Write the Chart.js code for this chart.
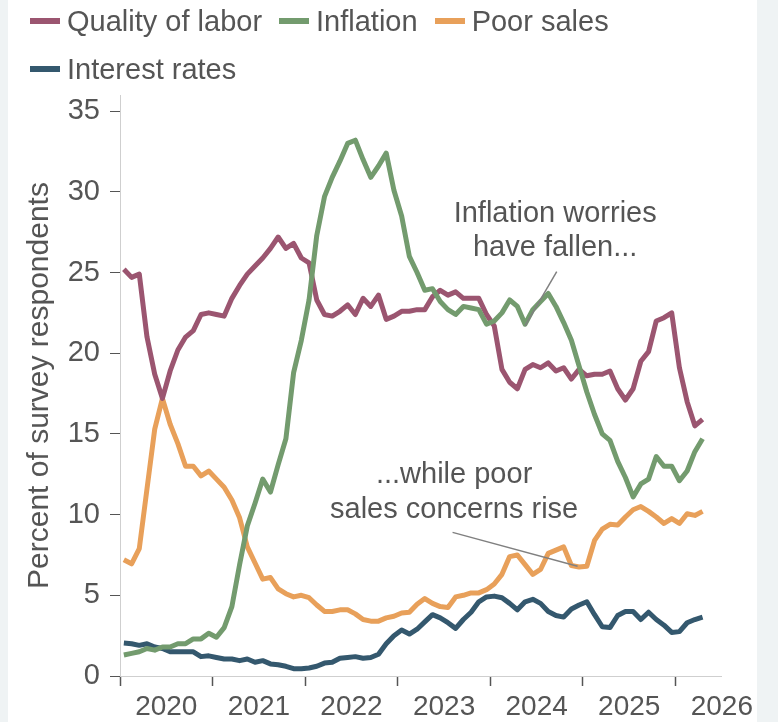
<!DOCTYPE html>
<html>
<head>
<meta charset="utf-8">
<script src="https://cdn.jsdelivr.net/npm/chart.js@4/dist/chart.umd.min.js"></script>
<style>
  html, body { margin: 0; padding: 0; background: #eff3f4; }
  #card { position: absolute; left: 8px; top: 0; width: 749px; height: 722px; background: #fff; overflow: hidden; }
  #legend { position: absolute; left: 22px; top: -3px; width: 700px; display: flex; flex-wrap: wrap;
            font: 29px "Liberation Sans", Arial, sans-serif; color: #555; line-height: 48px; }
  .item { display: flex; align-items: center; margin-right: 17px; }
  .swatch { width: 30px; height: 6px; margin-right: 7px; }
  canvas { position: absolute; left: 0; top: 0; }
</style>
</head>
<body>
<div id="card">
  <canvas id="chart" width="749" height="722"></canvas>
  <div id="legend"></div>
</div>
<script>
/*
DATA (monthly, Jan 2020 onward)
*/
const seriesNames = ['Quality of labor', 'Inflation', 'Poor sales', 'Interest rates'];
const seriesColors = ['#9b5570', '#739b6e', '#e8a05a', '#34586e'];

const qualityOfLabor = [
  25.2, 24.7, 24.9, 21.0, 18.7, 17.2, 18.9, 20.2, 21.0, 21.4,
  22.4, 22.5, 22.4, 22.3, 23.4, 24.2, 24.9, 25.4, 25.9, 26.5,
  27.2, 26.5, 26.8, 25.9, 25.6, 23.3, 22.4, 22.3, 22.6, 23.0,
  22.4, 23.4, 22.9, 23.6, 22.1, 22.3, 22.6, 22.6, 22.7, 22.7,
  23.5, 23.9, 23.6, 23.8, 23.4, 23.4, 23.4, 22.4, 21.7, 19.0,
  18.2, 17.8, 19.0, 19.3, 19.1, 19.4, 18.9, 19.1, 18.4, 19.0,
  18.6, 18.7, 18.7, 18.9, 17.8, 17.1, 17.8, 19.5, 20.1, 22.0,
  22.2, 22.5, 19.1, 17.0, 15.5, 15.9
];
const inflation = [
  1.3, 1.4, 1.5, 1.7, 1.6, 1.8, 1.8, 2.0, 2.0, 2.3,
  2.3, 2.65, 2.4, 3.0, 4.3, 6.9, 9.3, 10.7, 12.2, 11.4,
  13.1, 14.7, 18.8, 20.8, 23.3, 27.3, 29.7, 30.9, 31.9, 33.0,
  33.2, 32.0, 30.9, 31.6, 32.4, 30.1, 28.5, 26.0, 25.0, 23.9,
  24.0, 23.2, 22.7, 22.4, 22.9, 22.8, 22.7, 21.8, 22.0, 22.5,
  23.3, 22.9, 21.8, 22.7, 23.2, 23.7, 22.9, 21.9, 20.8, 19.2,
  17.6, 16.2, 15.0, 14.6, 13.3, 12.3, 11.1, 11.9, 12.2, 13.6,
  13.0, 13.0, 12.1, 12.7, 13.9, 14.7
];
const poorSales = [
  7.2, 6.95, 7.9, 11.6, 15.3, 17.2, 15.6, 14.4, 13.0, 13.0,
  12.4, 12.7, 12.2, 11.7, 10.9, 9.8, 8.0, 7.0, 6.0, 6.1,
  5.4, 5.1, 4.9, 5.0, 4.85, 4.4, 4.0, 4.0, 4.1, 4.1,
  3.85, 3.5, 3.4, 3.4, 3.6, 3.7, 3.9, 3.95, 4.45, 4.8,
  4.5, 4.3, 4.25, 4.9, 5.0, 5.15, 5.15, 5.35, 5.7, 6.3,
  7.4, 7.5, 6.9, 6.3, 6.6, 7.6, 7.8, 8.0, 6.85, 6.75,
  6.8, 8.4, 9.1, 9.4, 9.35, 9.85, 10.3, 10.5, 10.2, 9.85,
  9.45, 9.75, 9.45, 10.05, 9.95, 10.2
];
const interestRates = [
  2.05, 2.0, 1.9, 2.0, 1.8, 1.7, 1.5, 1.5, 1.5, 1.5,
  1.2, 1.25, 1.15, 1.05, 1.05, 0.95, 1.05, 0.85, 0.95, 0.75,
  0.7, 0.6, 0.45, 0.45, 0.5, 0.6, 0.8, 0.85, 1.1, 1.15,
  1.2, 1.1, 1.15, 1.35, 2.0, 2.5, 2.85, 2.6, 2.9, 3.35,
  3.8, 3.6, 3.3, 2.95, 3.5, 3.95, 4.6, 4.9, 4.95, 4.85,
  4.5, 4.1, 4.6, 4.75, 4.5, 4.0, 3.75, 3.65, 4.15, 4.4,
  4.6, 3.8, 3.05, 3.0, 3.75, 4.0, 4.0, 3.5, 3.95, 3.5,
  3.15, 2.7, 2.75, 3.3, 3.5, 3.65
];

const yearLabels = ['2020', '2021', '2022', '2023', '2024', '2025', '2026'];
const yTicks = [0, 5, 10, 15, 20, 25, 30, 35];

const FONT = '"Liberation Sans", Arial, sans-serif';
const TEXT = '#555';

//each month is plotted at its middle
function toPoints(values) {
  return values.map((v, i) => ({x: i + 0.5, y: v}));
}

//drawing order: inflation on top, poor sales at the bottom
const drawOrder = [2, 1, 4, 3];
const allValues = [qualityOfLabor, inflation, poorSales, interestRates];

const datasets = seriesNames.map((name, i) => ({
  label: name,
  data: toPoints(allValues[i]),
  borderColor: seriesColors[i],
  backgroundColor: seriesColors[i],
  borderWidth: 5,
  borderJoinStyle: 'round',
  pointRadius: 0,
  tension: 0,
  order: drawOrder[i]
}));

//html legend
const legend = document.getElementById('legend');
seriesNames.forEach((name, i) => {
  const item = document.createElement('div');
  item.className = 'item';
  const sw = document.createElement('span');
  sw.className = 'swatch';
  sw.style.background = seriesColors[i];
  item.append(sw, document.createTextNode(name));
  legend.append(item);
});

//callouts, in data units
const notes = [
  {lines: ['Inflation worries', 'have fallen...'], x: 56.4, y: [28.6, 26.5], from: [56.6, 25.05], to: [52.5, 21.7]},
  {lines: ['...while poor', 'sales concerns rise'], x: 43.3, y: [12.45, 10.3], from: [43.1, 8.9], to: [59.3, 6.8]}
];

const notesPlugin = {
  id: 'notes',
  afterDatasetsDraw(chart) {
    const {ctx, scales: {x, y}} = chart;
    ctx.save();
    ctx.strokeStyle = '#808080';
    ctx.lineWidth = 1.5;
    ctx.fillStyle = TEXT;
    ctx.font = '29px ' + FONT;
    ctx.textAlign = 'center';
    ctx.textBaseline = 'middle';
    for (const n of notes) {
      ctx.beginPath();
      ctx.moveTo(x.getPixelForValue(n.from[0]), y.getPixelForValue(n.from[1]));
      ctx.lineTo(x.getPixelForValue(n.to[0]), y.getPixelForValue(n.to[1]));
      ctx.stroke();
      n.lines.forEach((t, j) => ctx.fillText(t, x.getPixelForValue(n.x), y.getPixelForValue(n.y[j])));
    }
    ctx.restore();
  }
};

Chart.defaults.font.family = FONT;
Chart.defaults.font.size = 28;
Chart.defaults.color = TEXT;

new Chart(document.getElementById('chart'), {
  type: 'line',
  data: {datasets: datasets},
  options: {
    responsive: false,
    animation: false,
    layout: {padding: {top: 95, right: 35, left: 0, bottom: 0}},
    plugins: {legend: {display: false}, tooltip: {enabled: false}},
    scales: {
      x: {
        type: 'linear',
        min: 0,
        max: yearLabels.length * 12 - 6,
        afterFit(scale) { scale.height = 46; },
        border: {color: '#cfcfcf', width: 1},
        grid: {
          drawOnChartArea: false,
          tickLength: 10,
          tickWidth: 1.5,
          tickColor: ctx => (ctx.tick && ctx.tick.value % 12 === 0) ? '#555' : 'rgba(0,0,0,0)'
        },
        ticks: {
          stepSize: 6,
          autoSkip: false,
          maxRotation: 0,
          padding: 4,
          callback: v => (v % 12 === 6) ? yearLabels[(v - 6) / 12] : ''
        }
      },
      y: {
        min: 0,
        max: 36,
        afterFit(scale) { scale.width = 112; },
        afterBuildTicks(scale) { scale.ticks = yTicks.map(v => ({value: v})); },
        border: {color: '#cfcfcf', width: 1},
        grid: {drawOnChartArea: false, tickLength: 10, tickColor: '#555'},
        ticks: {padding: 10, font: {size: 29}},
        title: {
          display: true,
          text: 'Percent of survey respondents',
          font: {size: 30},
          padding: {top: 14, bottom: 0}
        }
      }
    }
  },
  plugins: [notesPlugin]
});
</script>
</body>
</html>
